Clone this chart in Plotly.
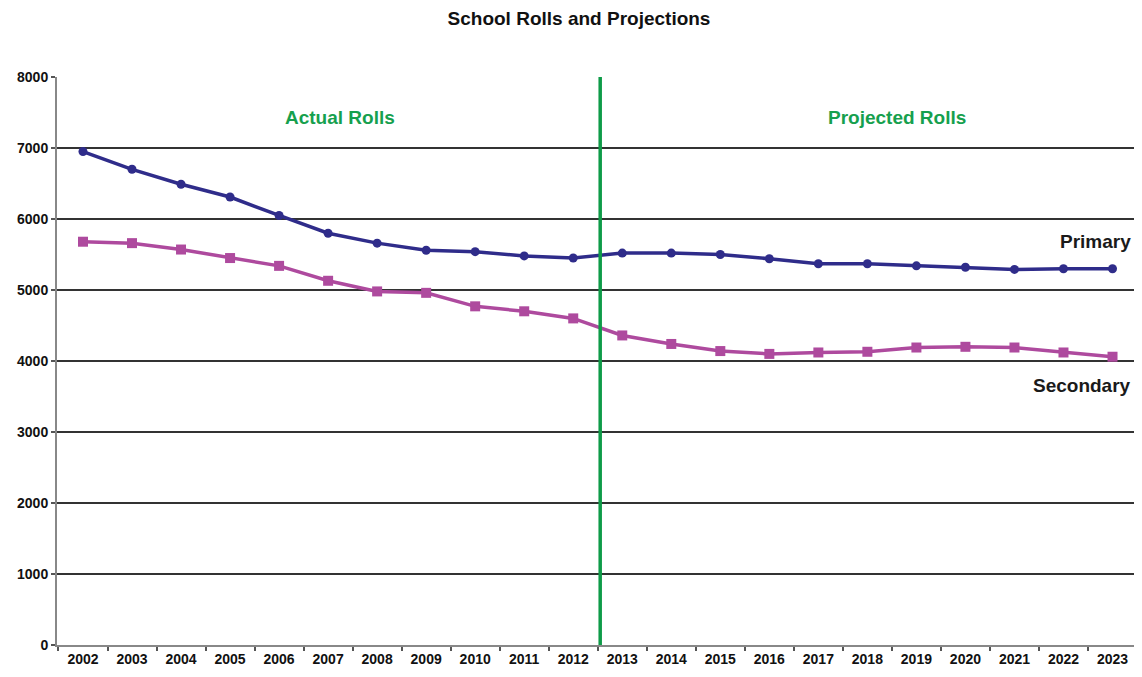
import plotly.graph_objects as go

years = [str(y) for y in range(2002, 2024)]
primary = [6950, 6700, 6490, 6310, 6050, 5800, 5660, 5560, 5540, 5480, 5450,
           5520, 5520, 5500, 5440, 5370, 5370, 5340, 5320, 5290, 5300, 5300]
secondary = [5680, 5660, 5570, 5450, 5340, 5130, 4980, 4960, 4770, 4700, 4600,
             4360, 4240, 4140, 4100, 4120, 4130, 4190, 4200, 4190, 4120, 4060]
y_ticks = [0, 1000, 2000, 3000, 4000, 5000, 6000, 7000, 8000]
divider_pos = 10.55  # between 2012 and 2013

xi = list(range(len(years)))

fig = go.Figure()
fig.add_trace(go.Scatter(x=xi, y=secondary, mode="lines+markers", name="Secondary",
                         line=dict(color="#AE4A9E", width=3.5),
                         marker=dict(symbol="square", size=10, color="#AE4A9E")))
fig.add_trace(go.Scatter(x=xi, y=primary, mode="lines+markers", name="Primary",
                         line=dict(color="#2F2C8A", width=3.5),
                         marker=dict(symbol="circle", size=9, color="#2F2C8A")))

fig.add_shape(type="line", xref="x", yref="paper", x0=divider_pos, x1=divider_pos,
              y0=0, y1=1, line=dict(color="#0E9B48", width=3.5))

green = "#16A04E"
fig.add_annotation(x=5.24, y=7430, text="<b>Actual Rolls</b>", showarrow=False,
                   font=dict(size=19, color=green, family="Liberation Sans"))
fig.add_annotation(x=16.6, y=7430, text="<b>Projected Rolls</b>", showarrow=False,
                   font=dict(size=19, color=green, family="Liberation Sans"))
fig.add_annotation(x=0.995, xref="paper", xanchor="right", y=5690, text="<b>Primary</b>",
                   showarrow=False, font=dict(size=19, color="#1a1a1a", family="Liberation Sans"))
fig.add_annotation(x=0.995, xref="paper", xanchor="right", y=3650, text="<b>Secondary</b>",
                   showarrow=False, font=dict(size=19, color="#1a1a1a", family="Liberation Sans"))

fig.update_layout(
    width=1142, height=677,
    margin=dict(l=49, r=12, t=69, b=40),
    paper_bgcolor="white", plot_bgcolor="white",
    showlegend=False,
    title=dict(text="<b>School Rolls and Projections</b>", x=0.5, xanchor="center",
               y=0.984, yanchor="middle",
               font=dict(size=19, color="#111", family="Liberation Sans")),
    font=dict(family="Liberation Sans", color="#111"),
)
fig.update_xaxes(range=[-0.53, 21.52], tickmode="array", tickvals=xi, ticktext=years,
                 showgrid=False, zeroline=False, showline=True, linecolor="#888",
                 linewidth=2, ticks="", automargin=False,
                 tickfont=dict(size=14, weight="bold", color="#111"),
                 minor=dict(tickmode="linear", tick0=-0.5, dtick=1, ticks="outside",
                            ticklen=4, tickwidth=2, tickcolor="#555"))
fig.update_yaxes(range=[0, 8000], tickmode="array", tickvals=y_ticks,
                 showgrid=True, gridcolor="#333", gridwidth=1.5, zeroline=False,
                 showline=True, linecolor="#888", linewidth=2, automargin=False,
                 ticks="outside", ticklen=4, tickcolor="#555", tickwidth=2,
                 tickfont=dict(size=14, weight="bold", color="#111"))

fig.write_html("out.html")
